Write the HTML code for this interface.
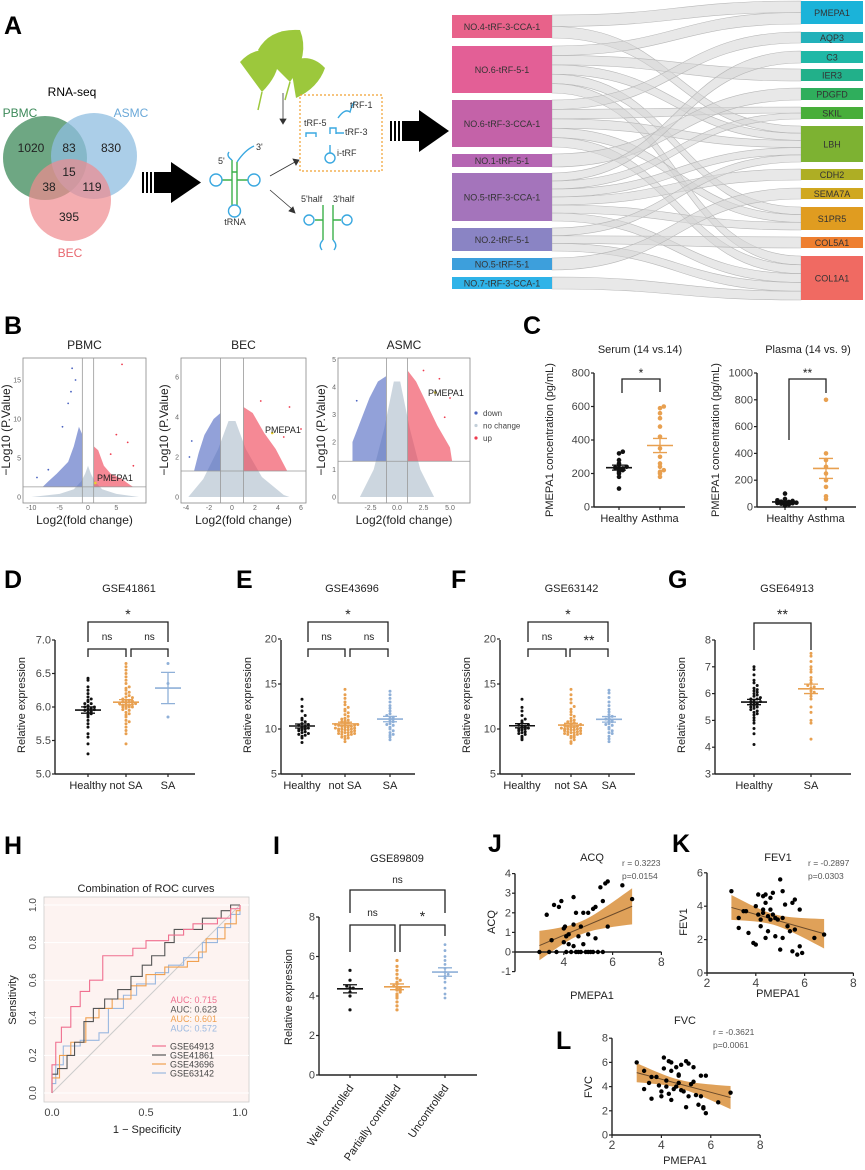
<!DOCTYPE html>
<html><head><meta charset="utf-8">
<style>
html,body{margin:0;padding:0;background:#fff;}
svg{display:block;font-family:"Liberation Sans",Arial,sans-serif;}
.pl{font-size:25px;font-weight:bold;fill:#000;}
</style></head>
<body>
<svg id="fig" width="865" height="1170" viewBox="0 0 865 1170" xmlns="http://www.w3.org/2000/svg">
<rect x="0" y="0" width="865" height="1170" fill="#fff"/>
<text class="pl" x="4" y="34">A</text>
<text class="pl" x="4" y="334">B</text>
<text class="pl" x="523" y="334">C</text>
<text class="pl" x="4" y="588">D</text>
<text class="pl" x="236" y="588">E</text>
<text class="pl" x="451" y="588">F</text>
<text class="pl" x="668" y="588">G</text>
<text class="pl" x="4" y="854">H</text>
<text class="pl" x="273" y="854">I</text>
<text class="pl" x="488" y="852">J</text>
<text class="pl" x="672" y="852">K</text>
<text class="pl" x="556" y="1049">L</text>

<g>
<text x="72" y="96" font-size="12" text-anchor="middle">RNA-seq</text>
<circle cx="45" cy="158" r="42" fill="#3d8a5a" fill-opacity="0.75"/>
<circle cx="94" cy="156" r="43" fill="#8fbde0" fill-opacity="0.75"/>
<circle cx="70" cy="200" r="41" fill="#ef8a8f" fill-opacity="0.7"/>
<text x="20" y="117" font-size="12" fill="#3d8a5a" text-anchor="middle">PBMC</text>
<text x="131" y="117" font-size="12" fill="#6aa8d8" text-anchor="middle">ASMC</text>
<text x="70" y="257" font-size="12" fill="#e86870" text-anchor="middle">BEC</text>
<g font-size="12" fill="#222" text-anchor="middle">
<text x="31" y="152">1020</text>
<text x="69" y="152">83</text>
<text x="111" y="152">830</text>
<text x="69" y="176">15</text>
<text x="49" y="191">38</text>
<text x="92" y="191">119</text>
<text x="69" y="221">395</text>
</g></g>
<g fill="#000">
<rect x="142" y="172" width="2" height="21"/><rect x="146" y="172" width="2" height="21"/><rect x="150" y="172" width="2" height="21"/>
<rect x="154" y="172" width="18" height="21"/><polygon points="171,162 201,182.5 171,203"/>
</g>
<g fill="#000">
<rect x="390" y="121" width="2" height="20"/><rect x="394" y="121" width="2" height="20"/><rect x="398" y="121" width="2" height="20"/>
<rect x="402" y="121" width="18" height="20"/><polygon points="419,110 449,131 419,152"/>
</g>
<g fill="#9cc83c">
<path d="M262,92 L240,62 Q255,45 278,52 Q282,72 262,92 Z"/>
<path d="M290,82 L258,50 Q270,28 300,30 Q310,55 290,82 Z"/>
<path d="M296,98 L290,62 Q310,52 325,68 Q318,88 296,98 Z"/>
<path d="M262,92 L258,110 M290,82 L285,100" stroke="#9cc83c" stroke-width="1.5"/>
</g>
<g stroke="#333" fill="#333" stroke-width="0.8">
<line x1="283" y1="93" x2="283" y2="120"/><polygon points="280,119 286,119 283,124"/>
<line x1="270" y1="176" x2="295" y2="162"/><polygon points="293,159 299,160 296,165"/>
<line x1="270" y1="190" x2="292" y2="209"/><polygon points="289,211 295,213 293,207"/>
</g>
<g fill="none" stroke-width="1.4">
<path d="M232,160 L232,205 M237,162 L237,205 M232,180 L222,180 M237,180 L248,180 M232,172 L237,172" stroke="#3cb04a"/>
<path d="M232,160 Q226,156 229,152 M237,162 Q245,150 254,146" stroke="#3aa8e0"/>
<circle cx="216" cy="180" r="6" stroke="#3aa8e0"/><circle cx="254" cy="180" r="6" stroke="#3aa8e0"/><circle cx="234.5" cy="211" r="6" stroke="#3aa8e0"/>
<text x="218" y="164" font-size="9" fill="#333" stroke="none">5'</text>
<text x="256" y="150" font-size="9" fill="#333" stroke="none">3'</text>
<text x="235" y="225" font-size="9" fill="#333" stroke="none" text-anchor="middle">tRNA</text>
</g>
<rect x="300" y="95" width="82" height="76" fill="none" stroke="#f0a030" stroke-width="1.2" stroke-dasharray="2,2"/>
<g fill="none" stroke="#3aa8e0" stroke-width="1.4">
<path d="M338,118 Q345,108 350,112 Q352,104 355,102"/>
<path d="M306,137 L306,133 L316,133 L316,137"/>
<path d="M330,134 L330,128 L336,128 L336,134 M336,133 L344,133"/>
<circle cx="330" cy="158" r="5"/><path d="M330,153 L330,145"/>
</g>
<g font-size="9" fill="#333">
<text x="350" y="108">tRF-1</text>
<text x="304" y="126">tRF-5</text>
<text x="345" y="135">tRF-3</text>
<text x="337" y="156">i-tRF</text>
<text x="301" y="202">5'half</text>
<text x="333" y="202">3'half</text>
</g>
<g fill="none" stroke-width="1.4">
<path d="M323,205 L323,240 M333,205 L333,240 M323,220 L315,220 M333,220 L341,220" stroke="#3cb04a"/>
<circle cx="309" cy="220" r="5" stroke="#3aa8e0"/><circle cx="347" cy="220" r="5" stroke="#3aa8e0"/>
<path d="M323,240 Q318,245 322,250 M333,240 Q338,245 334,250" stroke="#3aa8e0"/>
</g>
<g id="sankey"></g>
<g id="charts"></g>
</svg>
<script>
const NS='http://www.w3.org/2000/svg';
const S=document.getElementById('charts');
function mk(tag,attrs,parent){const e=document.createElementNS(NS,tag);for(const k in attrs)e.setAttribute(k,attrs[k]);(parent||S).appendChild(e);return e;}
function tx(x,y,s,size,attrs,parent){const e=mk('text',Object.assign({x:x,y:y,'font-size':size,'text-anchor':'middle',fill:'#222'},attrs||{}),parent);e.textContent=s;return e;}

const srcNames=['NO.4-tRF-3-CCA-1','NO.6-tRF-5-1','NO.6-tRF-3-CCA-1','NO.1-tRF-5-1','NO.5-tRF-3-CCA-1','NO.2-tRF-5-1','NO.5-tRF-5-1','NO.7-tRF-3-CCA-1'];
const srcColors=['#e8628a','#e35f96','#c462a8','#b565b2','#a474bb','#8a84c4','#3d9fdc','#2fb3e8'];
const srcTop=[15,46,100,154,173,228,258,277];
const srcBot=[38,93,147,167,221,251,270,289];
const tgtNames=['PMEPA1','AQP3','C3','IER3','PDGFD','SKIL','LBH','CDH2','SEMA7A','S1PR5','COL5A1','COL1A1'];
const tgtColors=['#1bb3d9','#22b1ba','#20b8a6','#22b08a','#2fae5c','#48ae3a','#7db232','#aeae24','#d0a820','#e09c20','#ee7f30','#f06a62'];
const tgtTop=[1,32,51,69,88,107,126,169,188,207,237,256];
const tgtBot=[24,43,63,81,100,119,162,180,199,230,248,300];
const links=[[0,0],[0,6],[1,0],[1,3],[1,6],[1,9],[2,1],[2,5],[2,6],[2,11],[3,4],[4,2],[4,5],[4,7],[4,9],[4,11],[5,6],[5,10],[5,11],[6,8],[7,11],[1,11],[2,9],[4,6]];
(function(){
  const G=document.getElementById('sankey');
  const sCount=srcNames.map((_,i)=>links.filter(l=>l[0]===i).length);
  const tCount=tgtNames.map((_,i)=>links.filter(l=>l[1]===i).length);
  const sUsed=srcNames.map(()=>0), tUsed=tgtNames.map(()=>0);
  const sorted=links.slice().sort((a,b)=>a[1]-b[1]||a[0]-b[0]);
  const tPos={};
  sorted.forEach(l=>{const h=(tgtBot[l[1]]-tgtTop[l[1]])/tCount[l[1]];tPos[l.join('-')]=[tgtTop[l[1]]+tUsed[l[1]]*h,h];tUsed[l[1]]++;});
  const bySrc=links.slice().sort((a,b)=>a[0]-b[0]||a[1]-b[1]);
  const x0=552,x1=801,xm=(x0+x1)/2;
  bySrc.forEach(l=>{
    const h=(srcBot[l[0]]-srcTop[l[0]])/sCount[l[0]];
    const ys=srcTop[l[0]]+sUsed[l[0]]*h; sUsed[l[0]]++;
    const tp=tPos[l.join('-')], yt=tp[0], ht=tp[1];
    const p=mk('path',{d:`M${x0},${ys} C${xm},${ys} ${xm},${yt} ${x1},${yt} L${x1},${yt+ht} C${xm},${yt+ht} ${xm},${ys+h} ${x0},${ys+h} Z`,fill:'#d6d6d6','fill-opacity':0.55,stroke:'#b8b8b8','stroke-width':0.6},G);
    
    
  });
  srcNames.forEach((n,i)=>{
    const r=mk('rect',{x:452,y:srcTop[i],width:100,height:srcBot[i]-srcTop[i],fill:srcColors[i]},G);
    
    
    const t=tx(502,(srcTop[i]+srcBot[i])/2+3.5,n,9,{fill:'#333'},G);
    
    
  });
  tgtNames.forEach((n,i)=>{
    const r=mk('rect',{x:801,y:tgtTop[i],width:62,height:tgtBot[i]-tgtTop[i],fill:tgtColors[i]},G);
    
    
    const t=tx(832,(tgtTop[i]+tgtBot[i])/2+3.5,n,9,{fill:'#333'},G);
    
    
  });
})();

const pbmcGray=[[-10,0],[-5,0.4],[-2.5,1],[-1.2,2],[-0.5,3],[0,4],[0.5,3],[1.2,2],[2.5,1],[5,0.4],[9,0]];
const pbmcDown=[[-1,1.3],[-1,8],[-1.6,9],[-2.5,6.5],[-3.5,4.5],[-5.5,3],[-7,2],[-8,1.3]];
const pbmcUp=[[1,1.3],[1,6.5],[1.8,6],[2.8,4],[4,3],[6,2.3],[7.5,1.5],[8,1.3]];
const pbmcOut=[[-2.8,16.5],[-2.2,15],[-3.5,12],[-4.5,9],[-9,2.5],[-7,3.5],[6,17],[7,7],[8,4],[5,8],[-3,13.5],[4,5.5]];
const becGray=[[-3.8,0],[-2.5,0.9],[-1.2,2.4],[-0.3,3.8],[0.3,3.8],[1.2,2.4],[2.6,1],[4.5,0.1],[5,0]];
const becDown=[[-1,1.3],[-1,4.2],[-1.6,3.9],[-2.4,3.1],[-2.9,2.2],[-3.3,1.3]];
const becUp=[[1,1.3],[1,4.5],[1.8,4.2],[2.8,3.2],[3.8,2.4],[4.8,1.3]];
const becOut=[[-3.5,2.8],[-3.7,2],[5,4.5],[6,3.4],[4.5,3],[2.5,4.8]];
const asmcGray=[[-3.5,0],[-2.2,1],[-1.2,2.5],[-0.3,4.2],[0.3,4.2],[1.2,2.5],[2.2,1],[3.5,0]];
const asmcDown=[[-1,1.3],[-1,4.4],[-1.8,4.2],[-2.6,3.6],[-3.4,2.8],[-4.2,2],[-4.2,1.3]];
const asmcUp=[[1,1.3],[1,4.6],[1.8,4.2],[2.8,3.4],[3.8,2.6],[5,1.8],[5.2,1.3]];
const asmcOut=[[4,4.3],[5,3.6],[4.5,2.9],[-3.8,3.5],[2.5,4.6]];
function volcano(o){
  const g=mk('g',{});
  
  
  const xs=v=>o.x0+o.kx*v, ys=v=>497-o.ky*v;
  const t=tx((o.l+o.r)/2,349,o.title,12,{},g);
  
  
  const fr=mk('rect',{x:o.l,y:358,width:o.r-o.l,height:145,fill:'#fff',stroke:'#888','stroke-width':0.8},g);
  
  
  [[o.gray,'#c3cfd9','cloud-no-change',0.85],[o.down,'#4a63c0','cloud-down',0.6],[o.up,'#ee3b4e','cloud-up',0.6]].forEach(c=>{
    const p=mk('polygon',{points:c[0].map(q=>xs(q[0])+','+ys(q[1])).join(' '),fill:c[1],'fill-opacity':c[3]},g);
    
    
  });
  o.out.forEach(q=>{
    const c=mk('circle',{cx:xs(q[0]),cy:ys(q[1]),r:0.9,fill:q[0]<0?'#4a63c0':'#ee3b4e'},g);
    
    
  });
  [-1,1].forEach(v=>{const l=mk('line',{x1:xs(v),x2:xs(v),y1:358,y2:503,stroke:'#999','stroke-width':0.8},g);
    
    });
  const h=mk('line',{x1:o.l,x2:o.r,y1:ys(1.3),y2:ys(1.3),stroke:'#999','stroke-width':0.8},g);
  
  
  o.xt.forEach((v,i)=>{const e=tx(xs(v),510,o.xl[i],7,{fill:'#666'},g);
    
    });
  o.yt.forEach(v=>{const e=tx(o.l-2,ys(v)+2.5,String(v),7,{fill:'#666','text-anchor':'end'},g);
    
    });
  const xl=tx((o.l+o.r)/2,524,'Log2(fold change)',12,{},g);
  
  
  const yl=tx(0,0,'\u2212Log10 (P.Value)',12,{transform:`translate(${o.l-13},430) rotate(-90)`},g);
  
  
  const pm=mk('circle',{cx:xs(o.pm[0]),cy:ys(o.pm[1]),r:1.3,fill:'#e8d030'},g);
  
  
  const pl=tx(o.pml[0],o.pml[1],'PMEPA1',9,{'text-anchor':'start'},g);
  
  
}
volcano({name:'pbmc',title:'PBMC',l:23,r:146,x0:88,kx:5.67,ky:7.8,gray:pbmcGray,down:pbmcDown,up:pbmcUp,out:pbmcOut,xt:[-10,-5,0,5],xl:['-10','-5','0','5'],yt:[0,5,10,15],pm:[1.3,1.8],pml:[97,481]});
volcano({name:'bec',title:'BEC',l:181,r:306,x0:232,kx:11.5,ky:20,gray:becGray,down:becDown,up:becUp,out:becOut,xt:[-4,-2,0,2,4,6],xl:['-4','-2','0','2','4','6'],yt:[0,2,4,6],pm:[3.5,3.2],pml:[265,433]});
volcano({name:'asmc',title:'ASMC',l:338,r:470,x0:397,kx:10.6,ky:27.5,gray:asmcGray,down:asmcDown,up:asmcUp,out:asmcOut,xt:[-2.5,0,2.5,5],xl:['-2.5','0.0','2.5','5.0'],yt:[0,1,2,3,4,5],pm:[3.6,3.8],pml:[428,396]});
(function(){
  const items=[['down','#4a63c0'],['no change','#c3cfd9'],['up','#ee3b4e']];
  items.forEach((it,i)=>{
    const c=mk('circle',{cx:476,cy:413+i*12.5,r:1.6,fill:it[1]});
    
    
    const t=tx(483,416+i*12.5,it[0],8,{'text-anchor':'start',fill:'#444'});
    
    
  });
})();

const serumHealthy=[110,180,200,210,220,225,230,235,240,250,260,280,320,330];
const serumAsthma=[180,200,210,220,240,260,300,350,420,480,530,560,590,600];
const plasmaHealthy=[10,15,20,25,28,30,32,35,38,40,45,50,60,100];
const plasmaAsthma=[60,80,150,200,250,300,350,400,800];
const dHealthy=[5.3,5.45,5.55,5.6,5.7,5.75,5.8,5.85,5.88,5.9,5.92,5.93,5.95,5.96,5.97,5.98,6.0,6.0,6.02,6.05,6.05,6.08,6.1,6.12,6.15,6.2,6.25,6.3,6.4,6.43];
const dNotSA=[5.45,5.6,5.65,5.7,5.75,5.78,5.8,5.85,5.88,5.9,5.92,5.95,5.96,5.98,6.0,6.0,6.0,6.01,6.02,6.03,6.04,6.05,6.05,6.06,6.07,6.08,6.09,6.1,6.1,6.12,6.14,6.15,6.17,6.2,6.22,6.25,6.28,6.3,6.35,6.4,6.45,6.5,6.55,6.6,6.65];
const dSA=[5.85,6.35,6.65];
const eHealthy=[8.5,9.0,9.2,9.3,9.4,9.5,9.6,9.7,9.8,9.9,10.0,10.0,10.1,10.2,10.3,10.4,10.5,10.6,10.8,11.0,11.2,11.5,12.0,12.5,13.3];
const eNotSA=[8.6,8.9,9.0,9.1,9.2,9.3,9.4,9.4,9.5,9.5,9.6,9.6,9.7,9.7,9.8,9.8,9.9,9.9,10.0,10.0,10.0,10.1,10.1,10.2,10.2,10.3,10.3,10.4,10.4,10.5,10.5,10.6,10.7,10.8,10.9,11.0,11.1,11.2,11.4,11.6,11.8,12.0,12.2,12.4,12.7,13.0,13.4,13.8,14.4];
const eSA=[8.8,9.1,9.4,9.6,9.8,10.0,10.2,10.4,10.6,10.8,11.0,11.1,11.2,11.3,11.5,11.7,12.0,12.3,12.6,13.0,13.4,13.8,14.2,9.3,10.5];
const fHealthy=[8.8,9.0,9.2,9.4,9.5,9.6,9.7,9.8,9.9,10.0,10.0,10.1,10.2,10.3,10.4,10.5,10.7,10.9,11.1,11.5,12.0,12.4,13.3];
const fNotSA=[8.4,8.6,8.8,9.0,9.1,9.2,9.3,9.4,9.4,9.5,9.5,9.6,9.6,9.7,9.7,9.8,9.8,9.9,9.9,10.0,10.0,10.0,10.1,10.1,10.2,10.2,10.3,10.3,10.4,10.5,10.6,10.7,10.8,10.9,11.0,11.2,11.4,11.6,11.9,12.2,12.5,12.9,13.3,13.8,14.4];
const fSA=[8.6,8.9,9.2,9.5,9.8,10.0,10.2,10.4,10.5,10.6,10.8,11.0,11.1,11.2,11.4,11.6,11.9,12.2,12.6,13.0,13.5,14.0,14.3,9.6,10.9];
const gHealthy=[4.1,4.5,4.7,4.9,5.0,5.1,5.2,5.3,5.35,5.4,5.45,5.5,5.5,5.55,5.6,5.6,5.65,5.7,5.7,5.75,5.8,5.85,5.9,5.95,6.0,6.05,6.1,6.2,6.3,6.4,6.5,6.7,6.9,7.0,5.25,5.65,5.8,6.15];
const gSA=[4.3,4.9,5.0,5.3,5.5,5.8,5.9,6.0,6.1,6.2,6.3,6.4,6.5,6.6,6.8,6.9,7.0,7.2,7.4,7.5,6.05,6.25];
const iWell=[3.3,4.0,4.2,4.4,4.4,4.5,4.8,5.3];
const iPartial=[3.3,3.5,3.7,3.9,4.0,4.1,4.2,4.3,4.3,4.4,4.4,4.5,4.6,4.7,4.8,4.9,5.1,5.3,5.5,5.8];
const iUnctrl=[3.9,4.1,4.4,4.7,4.9,5.0,5.1,5.2,5.4,5.6,5.8,6.0,6.3,6.6];

function stats(a){const n=a.length,m=a.reduce((s,v)=>s+v,0)/n;const sd=Math.sqrt(a.reduce((s,v)=>s+(v-m)*(v-m),0)/(n-1));return [m,sd/Math.sqrt(n)];}
function yAxisDraw(g,x,y0,y1,ticks,labels,ys,fs){
  const l=mk('line',{x1:x,x2:x,y1:y0,y2:y1,stroke:'#222','stroke-width':1.4},g);
  
  
  ticks.forEach((v,i)=>{
    const t=mk('line',{x1:x-3,x2:x,y1:ys(v),y2:ys(v),stroke:'#222','stroke-width':1.2},g);
    
    
    const e=tx(x-4,ys(v)+3.5,labels[i],fs||10,{'text-anchor':'end',fill:'#444'},g);
    
    
  });
}
function bracket(g,x1,x2,y,l1,l2,label,ly,fs){
  const p=mk('path',{d:`M${x1},${l1} L${x1},${y} L${x2},${y} L${x2},${l2}`,fill:'none',stroke:'#222','stroke-width':1.3},g);
  
  
  const t=tx((x1+x2)/2,ly,label,fs||11,{fill:'#222'},g);
  
  
}
function dots(g,vals,cx,ys,color,r,step){
  const sorted=vals.slice().sort((a,b)=>a-b);const bins={};
  sorted.forEach(v=>{
    const py=ys(v),b=Math.round(py/3);bins[b]=(bins[b]||0)+1;const k=bins[b]-1;
    const off=(k%2?1:-1)*Math.ceil(k/2)*step;
    const c=mk('circle',{cx:cx+off,cy:py,r:r,fill:color},g);
    
    
  });
  const st=stats(vals),m=st[0],se=st[1];
  const ml=mk('line',{x1:cx-13,x2:cx+13,y1:ys(m),y2:ys(m),stroke:color,'stroke-width':1.6},g);
  
  
  const sl=mk('path',{d:`M${cx},${ys(m-se)} L${cx},${ys(m+se)} M${cx-7},${ys(m-se)} L${cx+7},${ys(m-se)} M${cx-7},${ys(m+se)} L${cx+7},${ys(m+se)}`,stroke:color,'stroke-width':1.3,fill:'none'},g);
  
  
}
function xAxisDraw(g,x0,x1,y,cats,labels,fs,rot){
  const l=mk('line',{x1:x0,x2:x1,y1:y,y2:y,stroke:'#222','stroke-width':1.4},g);
  
  
  cats.forEach((cx,i)=>{
    const t=mk('line',{x1:cx,x2:cx,y1:y,y2:y+3,stroke:'#222','stroke-width':1.2},g);
    
    
    const e=rot?tx(0,0,labels[i],fs,{'text-anchor':'end',transform:`translate(${cx+4},${y+13}) rotate(-55)`},g):tx(cx,y+15,labels[i],fs,{},g);
    
    
  });
}
function grp(name){const g=mk('g',{});
  
  
  return g;}
function rlabel(g,x,y,s,fs){const e=tx(0,0,s,fs,{transform:`translate(${x},${y}) rotate(-90)`},g);
  
  }
function title(g,x,y,s,fs){const e=tx(x,y,s,fs);g.appendChild(e);
  
  }

(function(){
  const orange='#e8a050';
  let g=grp('serum-chart');
  let ys=v=>507-v*(134/800);
  title(g,640,353,'Serum (14 vs.14)',11);
  yAxisDraw(g,594,373,507,[0,200,400,600,800],['0','200','400','600','800'],ys,11);
  xAxisDraw(g,594,685,507,[619,660],['Healthy','Asthma'],11);
  rlabel(g,553,440,'PMEPA1 concentration (pg/mL)',11);
  dots(g,serumHealthy,619,ys,'#111',2.3,3.8);dots(g,serumAsthma,660,ys,orange,2.3,3.8);
  bracket(g,622,660,379,393,392,'*',377,12);
  g=grp('plasma-chart');
  ys=v=>507-v*(134/1000);
  title(g,808,353,'Plasma (14 vs. 9)',11);
  yAxisDraw(g,757,373,507,[0,200,400,600,800,1000],['0','200','400','600','800','1000'],ys,11);
  xAxisDraw(g,757,856,507,[785,826],['Healthy','Asthma'],11);
  rlabel(g,719,440,'PMEPA1 concentration (pg/mL)',11);
  dots(g,plasmaHealthy,785,ys,'#111',2.3,3.8);dots(g,plasmaAsthma,826,ys,orange,2.3,3.8);
  bracket(g,789,826,379,440,393,'**',377,12);
})();

(function(){
  const orange='#e8a050',blue='#8fb0d8';
  function panel(name,ttl,ax,axEnd,ys,ticks,labels,cats,xl,groups,brs){
    const g=grp(name);
    title(g,(ax+axEnd)/2+4,592,ttl,11);
    yAxisDraw(g,ax,640,774,ticks,labels,ys,11);
    xAxisDraw(g,ax,axEnd,774,cats,xl,11);
    rlabel(g,ax-30,705,'Relative expression',11);
    groups.forEach((gr,i)=>dots(g,gr[0],cats[i],ys,gr[1],1.5,3.2));
    brs.forEach(b=>bracket(g,b[0],b[1],b[2],b[3],b[4],b[5],b[6],b[7]));
  }
  panel('gse41861-chart','GSE41861',55,195,v=>774-(v-5)*67,[5,5.5,6,6.5,7],['5.0','5.5','6.0','6.5','7.0'],[88,126,168],['Healthy','not SA','SA'],
    [[dHealthy,'#111'],[dNotSA,orange],[dSA,blue]],
    [[88,168,622,642,642,'*',619,14],[88,126,649,657,657,'ns',640,10],[131,168,649,657,657,'ns',640,10]]);
  const ysE=v=>774-(v-5)*9;
  panel('gse43696-chart','GSE43696',281,415,ysE,[5,10,15,20],['5','10','15','20'],[302,345,390],['Healthy','not SA','SA'],
    [[eHealthy,'#111'],[eNotSA,orange],[eSA,blue]],
    [[308,388,622,642,642,'*',619,14],[308,345,649,657,657,'ns',640,10],[350,388,649,657,657,'ns',640,10]]);
  panel('gse63142-chart','GSE63142',500,635,ysE,[5,10,15,20],['5','10','15','20'],[522,571,609],['Healthy','not SA','SA'],
    [[fHealthy,'#111'],[fNotSA,orange],[fSA,blue]],
    [[528,608,622,642,642,'*',619,14],[528,566,649,657,657,'ns',640,10],[570,608,649,657,657,'**',645,14]]);
  panel('gse64913-chart','GSE64913',715,851,v=>774-(v-3)*26.8,[3,4,5,6,7,8],['3','4','5','6','7','8'],[754,811],['Healthy','SA'],
    [[gHealthy,'#111'],[gSA,orange]],
    [[754,811,623,650,650,'**',619,14]]);
})();

const rocNames=['GSE64913','GSE41861','GSE43696','GSE63142'];
const rocAUC=['AUC: 0.715','AUC: 0.623','AUC: 0.601','AUC: 0.572'];
const rocColors=['#f07090','#555555','#f0a050','#9ab8e0'];
const rocFpr0=[0,0.02,0.05,0.1,0.15,0.2,0.27,0.43,0.5,0.62,0.7,0.75,0.88,0.95,1];
const rocTpr0=[0.15,0.27,0.35,0.46,0.54,0.6,0.73,0.77,0.81,0.84,0.87,0.9,0.93,0.98,1];
const rocFpr1=[0,0.03,0.08,0.12,0.17,0.22,0.28,0.35,0.42,0.48,0.53,0.6,0.65,0.72,0.8,0.9,0.95,1];
const rocTpr1=[0.1,0.13,0.2,0.27,0.38,0.45,0.5,0.55,0.62,0.68,0.73,0.8,0.87,0.87,0.93,0.97,1,1];
const rocFpr2=[0,0.04,0.1,0.18,0.25,0.32,0.42,0.5,0.6,0.72,0.78,0.82,0.92,0.98,1];
const rocTpr2=[0.08,0.2,0.27,0.4,0.45,0.5,0.57,0.63,0.67,0.7,0.75,0.82,0.9,0.97,1];
const rocFpr3=[0,0.02,0.06,0.15,0.25,0.3,0.38,0.45,0.55,0.62,0.7,0.8,0.88,0.95,1];
const rocTpr3=[0.05,0.15,0.25,0.28,0.32,0.45,0.52,0.58,0.64,0.68,0.72,0.8,0.88,0.95,1];
(function(){
  const g=grp('roc-chart');
  const xs=v=>52+v*188, ys=v=>1093-v*188;
  title(g,146,892,'Combination of ROC curves',11);
  const bg=mk('rect',{x:44,y:897,width:205,height:205,fill:'#fdf3f1',stroke:'#ccc','stroke-width':0.8},g);
  
  
  [0,0.2,0.4,0.6,0.8,1].forEach(v=>{
    const l=mk('line',{x1:44,x2:249,y1:ys(v),y2:ys(v),stroke:'#fff','stroke-width':1},g);
    
    
    const t=tx(0,0,v.toFixed(1),10,{transform:`translate(${36},${ys(v)}) rotate(-90)`,fill:'#444'},g);
    
    
  });
  [0,0.5,1].forEach(v=>{
    const t=tx(xs(v),1116,v.toFixed(1),11,{fill:'#444'},g);
    
    
  });
  const d=mk('line',{x1:xs(0),y1:ys(0),x2:xs(1),y2:ys(1),stroke:'#ccc','stroke-width':1},g);
  
  
  const F=[rocFpr0,rocFpr1,rocFpr2,rocFpr3],T=[rocTpr0,rocTpr1,rocTpr2,rocTpr3];
  [3,2,1,0].forEach(k=>{
    let p=`M${xs(0)},${ys(0)}`;
    F[k].forEach((f,i)=>{p+=` H${xs(f)} V${ys(T[k][i])}`;});
    const e=mk('path',{d:p,fill:'none',stroke:rocColors[k],'stroke-width':1.1},g);
    
    
  });
  rocNames.forEach((n,k)=>{
    const a=tx(217,1003+k*9.5,rocAUC[k],9,{'text-anchor':'end',fill:rocColors[k]},g);
    
    
    const l=mk('line',{x1:152,x2:166,y1:1046+k*9,y2:1046+k*9,stroke:rocColors[k],'stroke-width':1.2},g);
    
    
    const t=tx(170,1049.5+k*9,n,9,{'text-anchor':'start',fill:'#444'},g);
    
    
  });
  const xl=tx(147,1133,'1 \u2212 Specificity',11,{},g);
  
  
  rlabel(g,16,1000,'Sensitivity',11);
})();

(function(){
  const g=grp('gse89809-chart');
  const ys=v=>1075-v*19.75;
  title(g,397,862,'GSE89809',11);
  yAxisDraw(g,319,917,1075,[0,2,4,6,8],['0','2','4','6','8'],ys,11);
  xAxisDraw(g,319,477,1075,[350,397,445],['Well controlled','Partially controlled','Uncontrolled'],11,true);
  rlabel(g,292,997,'Relative expression',11);
  dots(g,iWell,350,ys,'#111',1.6,3.2);dots(g,iPartial,397,ys,'#e8a050',1.6,3.2);dots(g,iUnctrl,445,ys,'#8fb0d8',1.4,3.2);
  bracket(g,350,445,890,913,913,'ns',883,10);
  bracket(g,350,395,925,952,952,'ns',916,10);
  bracket(g,400,445,925,952,936,'*',921,14);
})();

const acqX=[3.0,3.3,3.4,3.5,3.6,3.7,3.8,3.9,4.0,4.0,4.05,4.1,4.1,4.2,4.2,4.3,4.4,4.4,4.4,4.5,4.5,4.6,4.6,4.7,4.7,4.8,4.8,4.9,5.0,5.0,5.0,5.1,5.2,5.2,5.3,5.3,5.4,5.5,5.6,5.6,5.7,5.8,5.8,6.4,6.8];
const acqY=[0,1.9,0,0.6,2.4,0,2.3,2.6,1.2,0.5,1.3,0.8,0,0.9,0.4,0,2.8,1.4,0.3,2.0,0,0.8,0,1.3,0,2.0,0.4,0,2.0,0.9,0,0,2.2,0,2.3,0.7,0,3.3,2.6,0,3.5,3.6,1.3,3.4,2.7];
const fevX=[3.0,3.3,3.3,3.5,3.6,3.7,3.9,4.0,4.0,4.1,4.1,4.2,4.2,4.3,4.3,4.4,4.4,4.4,4.5,4.5,4.6,4.6,4.7,4.7,4.8,4.8,4.9,5.0,5.0,5.1,5.1,5.1,5.2,5.3,5.4,5.5,5.5,5.6,5.6,5.7,5.8,5.8,5.9,6.4,6.8,4.3,4.6];
const fevY=[4.9,3.3,2.7,3.7,3.7,2.4,1.8,1.7,4.0,4.7,3.5,3.2,2.8,4.6,3.8,4.7,4.2,2.1,3.4,2.5,4.5,3.8,4.8,3.5,2.2,3.3,3.2,5.6,1.4,4.9,3.3,2.1,4.1,2.8,2.5,1.3,4.2,4.4,2.6,1.1,1.6,3.8,1.2,2.1,2.3,3.6,3.2];
const fvcX=[3.0,3.3,3.3,3.5,3.6,3.6,3.8,3.9,4.0,4.0,4.1,4.1,4.2,4.2,4.3,4.3,4.4,4.4,4.4,4.5,4.6,4.7,4.7,4.7,4.8,4.8,4.9,5.0,5.0,5.1,5.1,5.2,5.3,5.3,5.4,5.5,5.6,5.6,5.7,5.8,5.8,5.7,6.3,6.8,4.6];
const fvcY=[6.0,5.3,3.8,4.3,4.8,3.0,4.8,4.1,3.6,3.2,5.5,6.4,4.5,4.0,6.1,3.4,6.0,5.3,2.9,3.8,5.6,5.0,4.9,4.3,5.8,3.7,3.6,6.1,2.3,5.9,3.2,4.2,5.6,4.4,3.3,2.5,3.2,4.9,2.3,4.9,1.8,2.2,2.7,3.5,4.0];
function scatter(o){
  const g=grp(o.name);
  const xs=v=>o.ax+(v-2)*o.kx, ys=v=>o.y0-v*o.ky;
  const n=o.X.length,mx=o.X.reduce((a,b)=>a+b,0)/n,my=o.Y.reduce((a,b)=>a+b,0)/n;
  let sxx=0,sxy=0;o.X.forEach((x,i)=>{sxx+=(x-mx)*(x-mx);sxy+=(x-mx)*(o.Y[i]-my);});
  const b=sxy/sxx,a=my-b*mx;let sse=0;o.X.forEach((x,i)=>{const r=o.Y[i]-a-b*x;sse+=r*r;});
  const s=Math.sqrt(sse/(n-2));
  const xmin=Math.min(...o.X),xmax=Math.max(...o.X);
  const up=[],lo=[];
  for(let k=0;k<=20;k++){const x=xmin+(xmax-xmin)*k/20;const w=2.01*s*Math.sqrt(1/n+(x-mx)*(x-mx)/sxx);up.push(xs(x)+','+ys(a+b*x+w));lo.unshift(xs(x)+','+ys(a+b*x-w));}
  const band=mk('polygon',{points:up.concat(lo).join(' '),fill:'#d9903c','fill-opacity':0.85},g);
  
  
  const fl=mk('line',{x1:xs(xmin),y1:ys(a+b*xmin),x2:xs(xmax),y2:ys(a+b*xmax),stroke:'#6a4a2a','stroke-width':1},g);
  
  
  yAxisDraw(g,o.ax,ys(o.yt[o.yt.length-1]),ys(o.yt[0]),o.yt,o.yt.map(String),ys,11);
  const xa=mk('line',{x1:o.ax,x2:xs(8),y1:ys(0),y2:ys(0),stroke:'#222','stroke-width':1.4},g);
  
  
  o.xt.forEach(v=>{
    const t=mk('line',{x1:xs(v),x2:xs(v),y1:ys(0),y2:ys(0)+3,stroke:'#222','stroke-width':1.2},g);
    
    
    const e=tx(xs(v),ys(o.yt[0])+14-(o.yt[0]<0?(ys(o.yt[0])-ys(0)):0),String(v),12,{fill:'#444'},g);
    
    
  });
  o.X.forEach((x,i)=>{
    const c=mk('circle',{cx:xs(x),cy:ys(o.Y[i]),r:2.2,fill:'#000'},g);
    
    
  });
  title(g,o.tx,o.ty,o.title,11);
  const r1=tx(o.rx,o.ry,o.r,8.5,{'text-anchor':'start',fill:'#555'},g);
  
  
  const p1=tx(o.rx,o.ry+13,o.p,8.5,{'text-anchor':'start',fill:'#555'},g);
  
  
  const xl=tx(o.tx,o.xly,'PMEPA1',11,{},g);
  
  
  rlabel(g,o.ax-20,o.yly,o.title,11);
}
scatter({name:'acq-scatter',title:'ACQ',X:acqX,Y:acqY,ax:515,kx:24.4,y0:952,ky:19.6,yt:[-1,0,1,2,3,4],xt:[4,6,8],tx:592,ty:861,rx:622,ry:866,r:'r = 0.3223',p:'p=0.0154',xly:999,yly:922});
scatter({name:'fev1-scatter',title:'FEV1',X:fevX,Y:fevY,ax:707,kx:24.4,y0:973,ky:16.7,yt:[0,2,4,6],xt:[2,4,6,8],tx:778,ty:861,rx:808,ry:866,r:'r = -0.2897',p:'p=0.0303',xly:997,yly:922});
scatter({name:'fvc-scatter',title:'FVC',X:fvcX,Y:fvcY,ax:612,kx:24.7,y0:1135,ky:12.1,yt:[0,2,4,6,8],xt:[2,4,6,8],tx:685,ty:1024,rx:713,ry:1035,r:'r = -0.3621',p:'p=0.0061',xly:1164,yly:1087});
</script>
</body></html>
